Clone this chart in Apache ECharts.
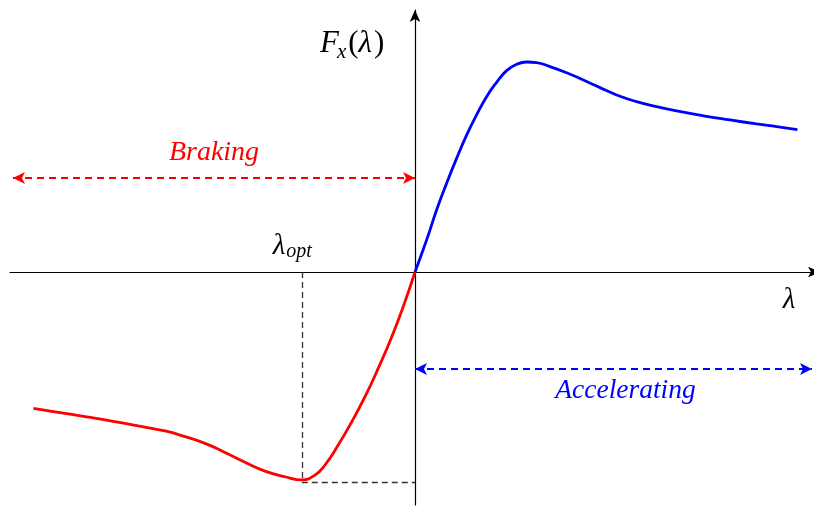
<!DOCTYPE html>
<html>
<head>
<meta charset="utf-8">
<script src="https://cdn.jsdelivr.net/npm/echarts@6/dist/echarts.min.js"></script>
<style>
  html, body { margin: 0; padding: 0; background: #ffffff; }
  #chart { width: 814px; height: 506px; }
</style>
</head>
<body>
<div id="chart"></div>
<script>
// Longitudinal tyre force F_x as a function of slip λ
const accelSlip  = [0, 0.029, 0.054, 0.079, 0.104, 0.129, 0.154, 0.179, 0.204, 0.229, 0.254, 0.279, 0.304, 0.3375, 0.379, 0.421, 0.4625, 0.504, 0.554, 0.604, 0.654, 0.721, 0.7875, 0.854, 0.904, 0.956];
const accelForce = [0, 0.152, 0.295, 0.422, 0.541, 0.652, 0.748, 0.835, 0.903, 0.959, 0.989, 1.000, 0.997, 0.978, 0.949, 0.914, 0.878, 0.843, 0.811, 0.787, 0.767, 0.744, 0.724, 0.705, 0.692, 0.678];

const brakeSlip  = [-0.954, -0.892, -0.825, -0.758, -0.692, -0.625, -0.575, -0.525, -0.475, -0.425, -0.375, -0.325, -0.283, -0.25, -0.225, -0.192, -0.158, -0.125, -0.092, -0.058, -0.025, 0];
const brakeForce = [-0.649, -0.668, -0.689, -0.710, -0.733, -0.757, -0.784, -0.816, -0.859, -0.906, -0.948, -0.975, -0.990, -0.967, -0.919, -0.824, -0.713, -0.594, -0.459, -0.308, -0.141, 0];

// Optimal braking slip and the force level it reaches
const optSlip = -0.283;
const optForce = -1.0;

// Braking / accelerating regions
const brakingRange = [-1.005, 0];
const brakingLevel = 0.448;
const accelRange = [0, 0.9925];
const accelLevel = -0.462;

// Axis extent
const slipMin = -1.0125, slipMax = 0.9975;
const forceMin = -1.1095, forceMax = 1.2476;

const pairs = (xs, ys) => xs.map((x, i) => [x, ys[i]]);

const chart = echarts.init(document.getElementById('chart'), null, { renderer: 'canvas' });

const axisLine = (offset) => ({
  show: true,
  onZero: true,
  symbol: ['none', 'arrow'],
  symbolSize: [8, 12],
  symbolOffset: [0, offset],
  lineStyle: { color: '#000000', width: 1.2 }
});

const axisCommon = {
  type: 'value',
  axisTick: { show: false },
  axisLabel: { show: false },
  splitLine: { show: false }
};

const serif = '"Liberation Serif", "DejaVu Serif", serif';

chart.setOption({
  animation: false,
  backgroundColor: '#ffffff',
  grid: { left: 10, right: 0, top: 10, bottom: 1, containLabel: false },
  xAxis: Object.assign({}, axisCommon, { min: slipMin, max: slipMax, axisLine: axisLine(6) }),
  yAxis: Object.assign({}, axisCommon, { min: forceMin, max: forceMax, axisLine: axisLine(0) }),
  series: [
    {
      name: 'accelerating',
      type: 'line',
      data: pairs(accelSlip, accelForce),
      smooth: 0.5,
      showSymbol: false,
      lineStyle: { color: '#0000ff', width: 2.8 },
      z: 3,
      markLine: {
        silent: true,
        symbol: ['arrow', 'arrow'],
        symbolSize: [9, 12],
        label: { show: false },
        lineStyle: { color: '#0000ff', type: [7, 5], width: 2 },
        data: [[
          { coord: [accelRange[0], accelLevel] },
          { coord: [accelRange[1], accelLevel] }
        ]]
      }
    },
    {
      name: 'braking',
      type: 'line',
      data: pairs(brakeSlip, brakeForce),
      smooth: 0.5,
      showSymbol: false,
      lineStyle: { color: '#ff0000', width: 2.8 },
      z: 3,
      markLine: {
        silent: true,
        symbol: ['arrow', 'arrow'],
        symbolSize: [9, 12],
        label: { show: false },
        lineStyle: { color: '#ff0000', type: [7, 5], width: 2 },
        data: [[
          { coord: [brakingRange[0], brakingLevel] },
          { coord: [brakingRange[1], brakingLevel] }
        ]]
      }
    },
    {
      name: 'optimum',
      type: 'line',
      data: [],
      markLine: {
        silent: true,
        symbol: ['none', 'none'],
        label: { show: false },
        lineStyle: { color: '#333333', type: [6, 4], width: 1.3 },
        data: [
          [{ coord: [optSlip, 0] }, { coord: [optSlip, optForce] }],
          [{ coord: [optSlip, optForce] }, { coord: [0, optForce] }]
        ]
      }
    }
  ]
});

// Text annotations placed from data coordinates
const at = (x, y) => chart.convertToPixel({ gridIndex: 0 }, [x, y]);
const origin = at(0, 0);
const optPt = at(optSlip, 0);
const brakeMid = at((brakingRange[0] + brakingRange[1]) / 2, brakingLevel);
const accelMid = at((accelRange[0] + accelRange[1]) / 2, accelLevel);
const xEnd = at(slipMax, 0);
const yEnd = at(0, forceMax);

const measureCtx = document.createElement('canvas').getContext('2d');
const fontOf = (p) => (p.italic ? 'italic ' : '') + p.size + 'px ' + serif;

// Lay out a run of pieces (main text and subscripts) left to right
function run(x, y, pieces, color) {
  const out = [];
  let cx = x;
  pieces.forEach((p) => {
    const font = fontOf(p);
    measureCtx.font = font;
    out.push({
      type: 'text',
      x: cx, y: y + (p.dy || 0),
      style: { text: p.text, fill: color, font: font, align: 'left', verticalAlign: 'middle' }
    });
    cx += measureCtx.measureText(p.text).width + (p.gap || 0);
  });
  return out;
}

const txt = (x, y, text, size, color) => ({
  type: 'text',
  x: x, y: y,
  style: {
    text: text,
    fill: color,
    font: 'italic ' + size + 'px ' + serif,
    align: 'center',
    verticalAlign: 'middle'
  }
});

chart.setOption({
  graphic: [].concat(
    // F_x(λ)
    run(origin[0] - 95, yEnd[1] + 34, [
      { text: 'F', size: 31, italic: true, gap: -2 },
      { text: 'x', size: 21, italic: true, dy: 8, gap: 2 },
      { text: '(', size: 31 },
      { text: 'λ', size: 31, italic: true, gap: 2 },
      { text: ')', size: 31 }
    ], '#000000'),
    // λ at the end of the slip axis
    [txt(xEnd[0] - 25, origin[1] + 28, 'λ', 29, '#000000')],
    // λ_opt above the axis
    run(optPt[0] - 29, optPt[1] - 26, [
      { text: 'λ', size: 29, italic: true, gap: 1 },
      { text: 'opt', size: 20, italic: true, dy: 6 }
    ], '#000000'),
    // region labels
    [
      txt(brakeMid[0], brakeMid[1] - 25, 'Braking', 28, '#ff0000'),
      txt(accelMid[0] + 12, accelMid[1] + 22, 'Accelerating', 27.5, '#0000ff')
    ]
  )
});
</script>
</body>
</html>
